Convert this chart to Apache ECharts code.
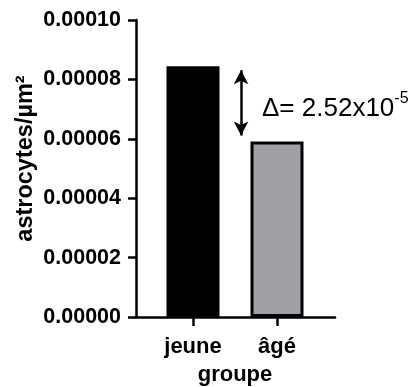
<!DOCTYPE html>
<html>
<head>
<meta charset="utf-8">
<script src="https://cdn.jsdelivr.net/npm/echarts@6/dist/echarts.min.js"></script>
<style>html,body{margin:0;padding:0;background:#fff;}#c{width:413px;height:387px;}</style>
</head>
<body>
<div id="c"></div>
<script>
var categories = ['jeune', 'âgé'];
var values = [0.0000844, 0.0000591];
var barColors = ['#000000', '#a09fa4'];
var yTicks = [0, 0.00002, 0.00004, 0.00006, 0.00008, 0.0001];
var yName = 'astrocytes/µm²';
var xName = 'groupe';
var deltaText = 'Δ= 2.52x10';
var deltaExp = '-5';

var FONT = '"Liberation Sans", Arial, Helvetica, sans-serif';
var chart = echarts.init(document.getElementById('c'), null, {renderer: 'canvas'});
var yMin = yTicks[0], yMax = yTicks[yTicks.length - 1], yStep = yTicks[1] - yTicks[0];

var option = {
  animation: false,
  backgroundColor: '#ffffff',
  grid: [
    {left: 136, top: 20, width: 199, height: 297, containLabel: false, outerBoundsMode: 'none'},
    {left: 151, top: 20, width: 168, height: 297, containLabel: false, outerBoundsMode: 'none'}
  ],
  xAxis: [
    {gridIndex: 0, type: 'value', min: 0, max: 1,
     axisLine: {show: true, onZero: false, lineStyle: {color: '#000', width: 2.5}},
     axisTick: {show: false}, axisLabel: {show: false}, splitLine: {show: false}},
    {gridIndex: 1, type: 'category', data: categories,
     axisLine: {show: false},
     axisTick: {show: true, alignWithLabel: true, length: 9, lineStyle: {color: '#000', width: 2.5}},
     axisLabel: {color: '#000', fontFamily: FONT, fontWeight: 'bold', fontSize: 22, margin: 19},
     name: xName, nameLocation: 'middle', nameGap: 47,
     nameTextStyle: {color: '#000', fontFamily: FONT, fontWeight: 'bold', fontSize: 22}}
  ],
  yAxis: [
    {gridIndex: 0, type: 'value', min: yMin, max: yMax, interval: yStep,
     axisLine: {show: true, lineStyle: {color: '#000', width: 2.5}},
     axisTick: {show: true, length: 8, lineStyle: {color: '#000', width: 2.5}},
     axisLabel: {color: '#000', fontFamily: FONT, fontWeight: 'bold', fontSize: 21.5, margin: 15,
                 formatter: function (v) { return v.toFixed(5); }},
     splitLine: {show: false},
     name: yName, nameLocation: 'middle', nameGap: 98, nameRotate: 90,
     nameTextStyle: {color: '#000', fontFamily: FONT, fontWeight: 'bold', fontSize: 23.5, padding: [0, 0, 0, 20]}},
    {gridIndex: 1, type: 'value', min: yMin, max: yMax, interval: yStep, show: false,
     splitLine: {show: false}}
  ],
  series: [
    {type: 'bar', xAxisIndex: 1, yAxisIndex: 1, barWidth: 53, z: 1,
     data: values.map(function (v, i) {
       return {value: v, itemStyle: {color: barColors[i], borderColor: '#000', borderWidth: 3}};
     })},
    {type: 'scatter', xAxisIndex: 0, yAxisIndex: 0, data: [], silent: true,
     markLine: {
       silent: true, symbol: ['arrow', 'arrow'], symbolSize: [11, 14],
       lineStyle: {color: '#000', width: 2.5, type: 'solid'},
       label: {show: false},
       data: [[{coord: [0.528, values[0] - 0.0000013]}, {coord: [0.528, values[1] + 0.0000020]}]]
     }}
  ],
  graphic: [
    {type: 'text', left: 262, top: 91, silent: true,
     style: {
       text: '{a|' + deltaText + '}{b|' + deltaExp + '}',
       rich: {
         a: {fontFamily: FONT, fontSize: 26, lineHeight: 36, fill: '#000', color: '#000'},
         b: {fontFamily: FONT, fontSize: 16, lineHeight: 16, verticalAlign: 'top', fill: '#000', color: '#000'}
       }
     }}
  ]
};
chart.setOption(option);
</script>
</body>
</html>
